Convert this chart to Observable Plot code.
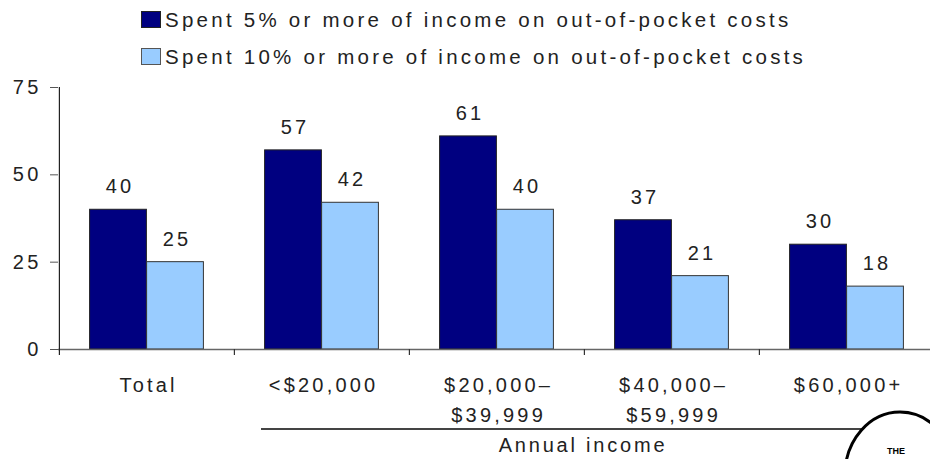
<!DOCTYPE html>
<html>
<head>
<meta charset="utf-8">
<script src="https://cdn.jsdelivr.net/npm/d3@7"></script>
<script src="https://cdn.jsdelivr.net/npm/@observablehq/plot@0.6"></script>
<style>
  html, body { margin: 0; padding: 0; background: #fff; overflow: hidden; }
  body { width: 930px; height: 459px; position: relative; font-family: "Liberation Sans", Arial, sans-serif; color: #222; }
  #legend { position: absolute; left: 0; top: 0; width: 930px; height: 70px; }
  .sw { position: absolute; left: 141px; width: 20px; height: 17px; box-sizing: border-box; border: 1px solid #222; }
  .lt { position: absolute; left: 165px; font-size: 20.5px; letter-spacing: 3.25px; line-height: 23px; white-space: nowrap; }
  #chart { position: absolute; left: 0; top: 70px; }
  #bracket { position: absolute; left: 261px; width: 644px; top: 428px; height: 0; border-top: 2px solid #444; }
  #axlabel { position: absolute; left: 261px; width: 644px; top: 433px; text-align: center; font-size: 20px; letter-spacing: 2.8px; line-height: 24px; white-space: nowrap; }
  #logo { position: absolute; left: 820px; top: 380px; }
</style>
</head>
<body>
<div id="legend"></div>
<div id="chart"></div>
<div id="bracket"></div>
<div id="axlabel">Annual income</div>
<svg id="logo" width="110" height="79" viewBox="820 380 110 79">
  <ellipse cx="900" cy="475" rx="55" ry="63" fill="#fff" stroke="#000" stroke-width="3"></ellipse>
  <text x="896" y="454" text-anchor="middle" font-family="Liberation Sans, Arial" font-weight="bold" font-size="9">THE</text>
</svg>
<script>
// ---- data ----
const categories = ["Total", "<$20,000", "$20,000–$39,999", "$40,000–$59,999", "$60,000+"];
const categoryLabels = ["Total", "<$20,000", "$20,000–\n$39,999", "$40,000–\n$59,999", "$60,000+"];
const seriesNames = [
  "Spent 5% or more of income on out-of-pocket costs",
  "Spent 10% or more of income on out-of-pocket costs"
];
const spent5 = [40, 57, 61, 37, 30];
const spent10 = [25, 42, 40, 21, 18];
const yTicks = [0, 25, 50, 75];
const colors = ["#000080", "#99CCFF"];

// ---- legend ----
const legend = document.getElementById("legend");
const swTops = [11, 48];
const txtTops = [8, 44.5];
seriesNames.forEach((name, i) => {
  const sw = document.createElement("div");
  sw.className = "sw";
  sw.style.top = swTops[i] + "px";
  sw.style.background = colors[i];
  if (i === 1) sw.style.borderColor = "#555";
  legend.appendChild(sw);
  const t = document.createElement("div");
  t.className = "lt";
  t.style.top = txtTops[i] + "px";
  t.textContent = name;
  legend.appendChild(t);
});

// ---- chart ----
const W = 930, H = 389, mL = 58, mR = -4, mT = 17, mB = 110;
const step = (W - mL - mR) / categories.length;   // band step
const pad = 30.6, bw = 57;                            // bar layout (style)
const LS = 3.2;                                       // letter spacing
const FS = 20;

const rows5 = categories.map((c, i) => ({cat: c, value: spent5[i]}));
const rows10 = categories.map((c, i) => ({cat: c, value: spent10[i]}));
const labelRows = categories.map((c, i) => ({cat: c, label: categoryLabels[i]}));

const plot = Plot.plot({
  width: W, height: H,
  marginLeft: mL, marginRight: mR, marginTop: mT, marginBottom: mB,
  style: {fontFamily: "Liberation Sans, Arial, sans-serif", fontSize: FS + "px", letterSpacing: LS + "px", color: "#222", background: "transparent", overflow: "hidden"},
  x: {domain: categories, padding: 0, axis: null},
  y: {domain: [0, 75], axis: null},
  marks: [
    Plot.barY(rows5, {x: "cat", y: "value", fill: colors[0], stroke: "#222", strokeWidth: 1, insetLeft: pad, insetRight: step - pad - bw}),
    Plot.barY(rows10, {x: "cat", y: "value", fill: colors[1], stroke: "#333", strokeWidth: 1, insetLeft: pad + bw, insetRight: step - pad - 2 * bw}),
    Plot.text(rows5, {x: "cat", y: "value", text: d => String(d.value), dx: pad + bw / 2 - step / 2 + LS / 2, dy: -23, fill: "#222", fontSize: FS}),
    Plot.text(rows10, {x: "cat", y: "value", text: d => String(d.value), dx: pad + 1.5 * bw - step / 2 + LS / 2, dy: -23, fill: "#222", fontSize: FS}),
    Plot.ruleY([0], {stroke: "#666", strokeWidth: 1.5}),
    Plot.ruleX([categories[0]], {x: d => d, dx: -step / 2, y1: 75, y2: 0, insetBottom: -6, stroke: "#222", strokeWidth: 1.2}),
    Plot.ruleX(categories.slice(1), {x: d => d, dx: -step / 2, y1: 0, y2: 0, insetBottom: -6, stroke: "#333", strokeWidth: 1.2}),
    Plot.axisY(yTicks, {tickSize: 8, tickPadding: 9, stroke: "#555", fill: "#222", fontSize: FS, label: null}),
    Plot.text(labelRows, {x: "cat", text: "label", frameAnchor: "bottom", lineAnchor: "top", dy: 21, dx: LS / 2, lineHeight: 1.5, fill: "#222", fontSize: FS})
  ]
});
document.getElementById("chart").appendChild(plot);
</script>
</body>
</html>
